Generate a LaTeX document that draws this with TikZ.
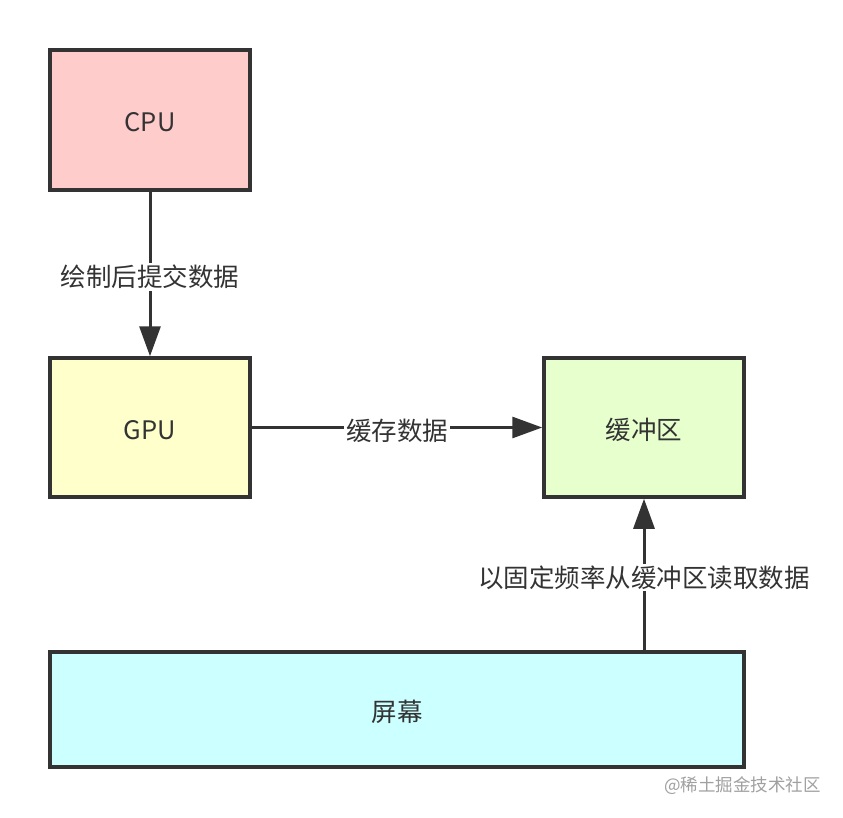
\documentclass[tikz,border=0pt]{standalone}
\usepackage{fontspec}
\setmainfont{Noto Sans CJK SC}
\usetikzlibrary{arrows.meta}
\definecolor{edgec}{HTML}{333333}
\definecolor{cpuc}{HTML}{FFCCCC}
\definecolor{gpuc}{HTML}{FFFFCC}
\definecolor{bufc}{HTML}{E6FFCC}
\definecolor{scrc}{HTML}{CCFFFF}
\definecolor{wmc}{HTML}{A0A0A0}
\tikzset{
  box/.style={draw=edgec, line width=3.5pt, text=edgec, font=\fontsize{25.5}{30}\selectfont, text height=24pt, text depth=0pt},
  conn/.style={draw=edgec, line width=3pt, -{Triangle[length=30pt,width=21pt]}},
  lbl/.style={fill=white, text=edgec, font=\fontsize{25.5}{30}\selectfont, inner sep=2pt, yshift=-3pt},
}
\begin{document}
\begin{tikzpicture}[x=1pt,y=-1pt]
\useasboundingbox (0,0) rectangle (843,818);
\fill[white] (0,0) rectangle (843,818);
\node[box, fill=cpuc, minimum width=200pt, minimum height=140pt] (cpu) at (150,120) {CPU};
\node[box, fill=gpuc, minimum width=200pt, minimum height=139pt] (gpu) at (150,427.5) {GPU};
\node[box, fill=bufc, minimum width=200pt, minimum height=139pt] (buf) at (644,427.5) {缓冲区};
\node[box, fill=scrc, minimum width=694pt, minimum height=115pt] (scr) at (397,709.5) {屏幕};
\draw[conn] (cpu) -- node[lbl] (l1) {绘制后提交数据} (gpu);
\draw[conn] (gpu) -- node[lbl] (l2) {缓存数据} (buf);
\draw[conn] (scr.north -| buf.south) -- node[lbl, pos=0.5] (l3) {以固定频率从缓冲区读取数据} (buf.south);
\node[text=wmc, font=\fontsize{17.5}{20}\selectfont, anchor=east, inner sep=0pt] (wm) at (821,786) {@稀土掘金技术社区};
\end{tikzpicture}
\end{document}
